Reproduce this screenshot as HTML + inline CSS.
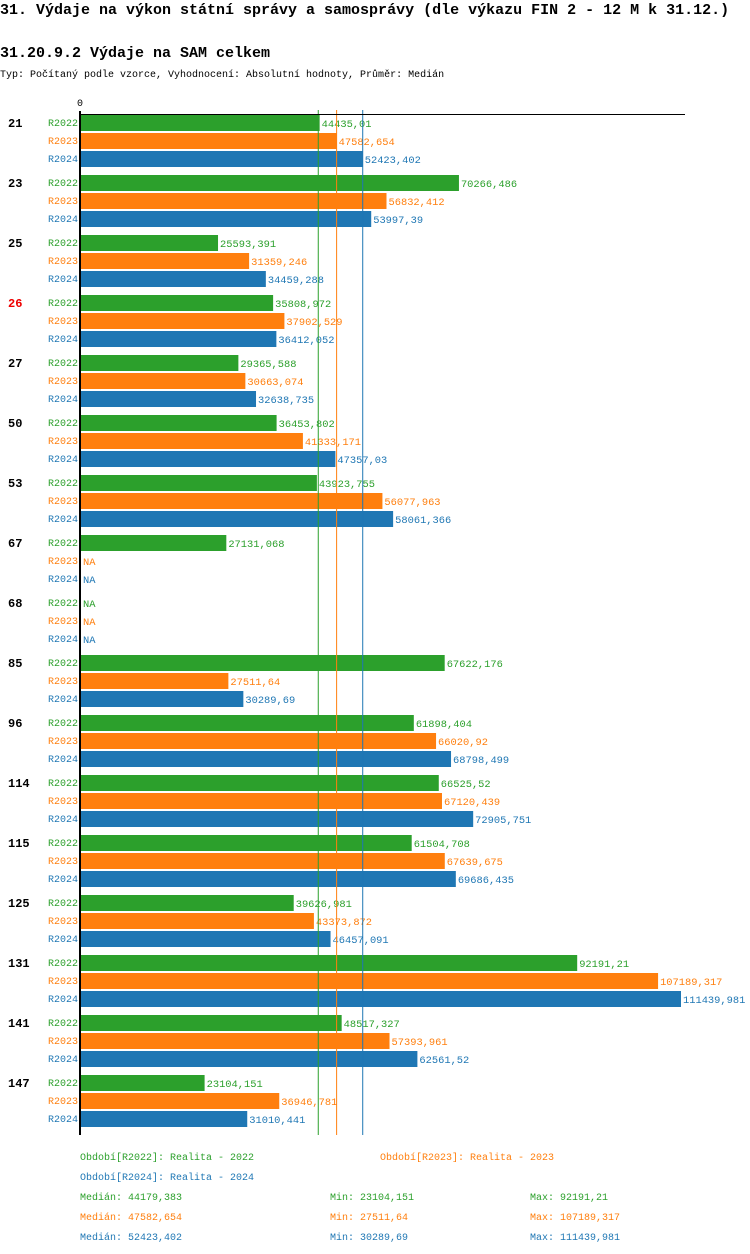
<!DOCTYPE html>
<html><head><meta charset="utf-8"><style>
body{margin:0;background:#fff;width:750px;height:1254px;overflow:hidden}
svg{display:block;font-family:"Liberation Mono","DejaVu Sans Mono",monospace}
</style></head><body>
<svg id="c" width="750" height="1254">
<text x="0" y="14" font-size="15" font-weight="bold">31. Výdaje na výkon státní správy a samosprávy (dle výkazu FIN 2 - 12 M k 31.12.)</text>
<text x="0" y="57" font-size="15" font-weight="bold">31.20.9.2 Výdaje na SAM celkem</text>
<text x="0" y="77" font-size="10">Typ: Počítaný podle vzorce, Vyhodnocení: Absolutní hodnoty, Průměr: Medián</text>
<text x="80" y="106" font-size="10" text-anchor="middle">0</text>
<g id="bars"></g>
<line x1="80" y1="114.5" x2="685" y2="114.5" stroke="#000" stroke-width="1"/>
<line x1="80" y1="111" x2="80" y2="1135" stroke="#000" stroke-width="2"/>
<g id="legend" font-size="10"></g>
</svg>
<script>
const categories=["21","23","25","26","27","50","53","67","68","85","96","114","115","125","131","141","147"];
const series=["R2022","R2023","R2024"];
const colors=["#2ca02c","#ff7f0e","#1f77b4"];
const v2022=[44435.01,70266.486,25593.391,35808.972,29365.588,36453.802,43923.755,27131.068,null,67622.176,61898.404,66525.52,61504.708,39626.981,92191.21,48517.327,23104.151];
const v2023=[47582.654,56832.412,31359.246,37902.529,30663.074,41333.171,56077.963,null,null,27511.64,66020.92,67120.439,67639.675,43373.872,107189.317,57393.961,36946.781];
const v2024=[52423.402,53997.39,34459.288,36412.052,32638.735,47357.03,58061.366,null,null,30289.69,68798.499,72905.751,69686.435,46457.091,111439.981,62561.52,31010.441];
const medians=[44179.383,47582.654,52423.402];
const mins=["23104,151","27511,64","30289,69"];
const maxs=["92191,21","107189,317","111439,981"];
const periods=["Realita - 2022","Realita - 2023","Realita - 2024"];
const values=[v2022,v2023,v2024];
const NS="http://www.w3.org/2000/svg";
const x=v=>80+v*601/111440;
const rowY=(g,s)=>114+g*60+s*18;
const fmt=v=>String(v).replace('.',',');
const bars=document.getElementById('bars');
function mk(tag,attrs,parent){const e=document.createElementNS(NS,tag);for(const k in attrs)e.setAttribute(k,attrs[k]);parent.appendChild(e);return e;}
categories.forEach((c,g)=>{
  const t=mk('text',{x:8,y:rowY(g,0)+13,'font-size':12,'font-weight':'bold',fill:c==="26"?"#e00":"#000"},bars);
  t.textContent=c;
  
  
  series.forEach((s,si)=>{
    const y=rowY(g,si);
    const l=mk('text',{x:78,y:y+12,'font-size':10,'text-anchor':'end',fill:colors[si]},bars);
    l.textContent=s;
    
    
    const v=values[si][g];
    let end=81;
    if(v!==null){
      const r=mk('rect',{x:81,y:y+1,width:x(v)-81,height:16,fill:colors[si]},bars);
      
      
      end=x(v);
    }
    const vt=mk('text',{x:end+2,y:y+13,'font-size':10.4,fill:colors[si]},bars);
    vt.textContent=v===null?"NA":fmt(v);
    
    
  });
});
medians.forEach((m,i)=>{
  const l=mk('line',{x1:x(m),x2:x(m),y1:110,y2:1135,stroke:colors[i],'stroke-width':1},bars);
  
  
});
const lg=document.getElementById('legend');
const pp=[[80,1160],[380,1160],[80,1180]];
series.forEach((s,i)=>{
  const t=mk('text',{x:pp[i][0],y:pp[i][1],fill:colors[i]},lg);
  t.textContent="Období["+s+"]: "+periods[i];
  
  
  const y=1200+i*20;
  const a=mk('text',{x:80,y:y,fill:colors[i]},lg);a.textContent="Medián: "+fmt(medians[i]);
  
  
  const b=mk('text',{x:330,y:y,fill:colors[i]},lg);b.textContent="Min: "+mins[i];
  
  
  const c=mk('text',{x:530,y:y,fill:colors[i]},lg);c.textContent="Max: "+maxs[i];
  
  
});
</script>
</body></html>
